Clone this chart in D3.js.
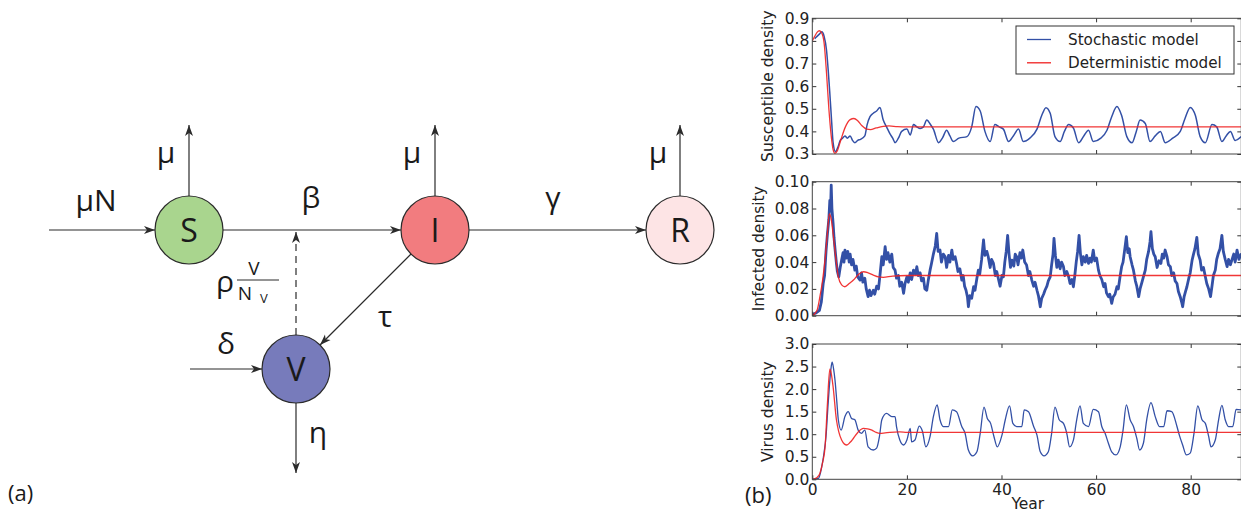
<!DOCTYPE html>
<html>
<head>
<meta charset="utf-8">
<script src="https://cdn.jsdelivr.net/npm/d3@7"></script>
<style>
body { margin: 0; background: #fff; }
svg { display: block; }
</style>
</head>
<body>
<svg id="fig" width="1241" height="514"></svg>
<script>
// x ticks (years) shared by the three panels
var yearTicks = [0, 20, 40, 60, 80];
var yearMax = 90.7;

// Susceptible density
var susTicks = [0.3, 0.4, 0.5, 0.6, 0.7, 0.8, 0.9];
var susStochastic = [[0.5,0.81],[1,0.82],[1.5,0.83],[2,0.84],[2.5,0.82],[3,0.76],[3.4,0.66],[3.7,0.57],[4.1,0.44],[4.4,0.35],[4.9,0.31],[5.4,0.33],[5.9,0.36],[6.4,0.37],[6.9,0.38],[7.4,0.37],[8,0.38],[8.5,0.36],[9,0.35],[9.6,0.36],[10.2,0.365],[11.1,0.38],[11.6,0.43],[12.2,0.465],[12.9,0.48],[13.6,0.49],[14.3,0.506],[15,0.45],[15.7,0.42],[16.4,0.39],[17,0.37],[17.5,0.35],[18.2,0.37],[18.9,0.40],[20,0.41],[20.7,0.384],[21.4,0.43],[22.1,0.42],[22.8,0.413],[23.5,0.42],[24.2,0.45],[25,0.43],[25.6,0.41],[26.7,0.35],[27.5,0.37],[28.4,0.405],[29.1,0.38],[29.8,0.355],[31,0.37],[32.7,0.377],[33.7,0.42],[34.6,0.51],[35.5,0.49],[36.5,0.40],[37.6,0.355],[38.6,0.43],[39.5,0.42],[40.4,0.41],[41.5,0.355],[42.5,0.38],[43.6,0.41],[44.6,0.355],[46,0.37],[47.5,0.41],[48.5,0.47],[49.4,0.505],[50.3,0.48],[51.3,0.377],[52.4,0.355],[53.3,0.40],[54.2,0.43],[55.2,0.415],[56.3,0.35],[57.4,0.38],[58.4,0.405],[59.4,0.355],[61,0.37],[62.3,0.405],[63.3,0.465],[64.4,0.51],[65.4,0.47],[66.5,0.377],[67.6,0.35],[68.5,0.40],[69.3,0.45],[70.4,0.435],[71.4,0.355],[72.5,0.38],[73.6,0.40],[74.6,0.35],[76.2,0.37],[77.8,0.40],[78.8,0.457],[79.9,0.506],[81,0.47],[82,0.377],[83.1,0.35],[84.5,0.43],[85.5,0.42],[86.6,0.355],[87.5,0.38],[88.4,0.40],[89.4,0.36],[90.7,0.377]];
var susDeterministic = [[0,0.80],[0.5,0.82],[1,0.838],[1.5,0.845],[2,0.835],[2.5,0.79],[3,0.66],[3.5,0.50],[4,0.38],[4.4,0.32],[4.8,0.303],[5.3,0.315],[6,0.36],[7,0.42],[8,0.452],[8.8,0.457],[9.6,0.447],[10.5,0.425],[11.5,0.41],[12.3,0.408],[13.5,0.415],[15,0.422],[16.2,0.424],[18,0.421],[20,0.42],[90.7,0.42]];

// Infected density
var infTicks = [0.00, 0.02, 0.04, 0.06, 0.08, 0.10];
var infStochastic = [[0,0.001],[0.8,0.002],[1.5,0.004],[1.9,0.010],[2.3,0.024],[2.6,0.030],[2.9,0.048],[3.2,0.061],[3.5,0.072],[3.7,0.086],[3.85,0.078],[4,0.0975],[4.15,0.080],[4.4,0.069],[4.6,0.058],[4.8,0.050],[5.1,0.039],[5.3,0.033],[5.6,0.029],[5.9,0.036],[6.2,0.0415],[6.5,0.047],[6.7,0.040],[6.9,0.049],[7.2,0.043],[7.5,0.048],[7.8,0.040],[8,0.046],[8.3,0.038],[8.6,0.042],[9,0.034],[9.3,0.037],[9.6,0.029],[10.1,0.0266],[10.4,0.032],[10.7,0.025],[11.1,0.028],[11.4,0.020],[11.8,0.0142],[12.1,0.019],[12.4,0.015],[12.9,0.019],[13.2,0.016],[13.6,0.022],[14,0.020],[14.3,0.030],[14.7,0.044],[15,0.038],[15.4,0.0515],[15.7,0.042],[16,0.047],[16.4,0.040],[16.8,0.046],[17.1,0.036],[17.5,0.034],[17.8,0.028],[18.2,0.030],[18.5,0.022],[18.9,0.025],[19.3,0.0167],[19.6,0.024],[20,0.029],[20.3,0.025],[20.7,0.032],[21,0.027],[21.4,0.034],[21.8,0.031],[22.1,0.0366],[22.4,0.030],[22.8,0.032],[23.1,0.026],[23.5,0.028],[23.8,0.020],[24.2,0.019],[24.5,0.026],[24.9,0.034],[25.2,0.039],[25.6,0.046],[26,0.052],[26.3,0.0614],[26.6,0.048],[27,0.049],[27.3,0.040],[27.7,0.046],[28.1,0.044],[28.4,0.036],[28.8,0.045],[29.1,0.040],[29.5,0.049],[29.8,0.042],[30.2,0.044],[30.5,0.039],[30.8,0.033],[31.2,0.035],[31.6,0.0266],[31.9,0.030],[32.2,0.022],[32.5,0.019],[32.8,0.014],[33,0.0067],[33.3,0.015],[33.7,0.013],[34.1,0.0216],[34.4,0.019],[34.8,0.028],[35.1,0.034],[35.4,0.031],[35.8,0.042],[36.2,0.0565],[36.5,0.045],[36.9,0.048],[37.2,0.044],[37.6,0.036],[37.9,0.042],[38.3,0.039],[38.7,0.030],[39,0.033],[39.4,0.0266],[39.7,0.022],[40.1,0.030],[40.4,0.029],[40.7,0.040],[41,0.048],[41.3,0.060],[41.6,0.046],[41.9,0.036],[42.2,0.0415],[42.6,0.037],[42.9,0.046],[43.2,0.044],[43.5,0.038],[43.9,0.047],[44.2,0.043],[44.5,0.049],[44.9,0.040],[45.3,0.0378],[45.7,0.030],[46,0.033],[46.4,0.0266],[46.8,0.022],[47.1,0.025],[47.5,0.019],[47.8,0.015],[48.2,0.0067],[48.5,0.013],[48.9,0.016],[49.2,0.019],[49.6,0.022],[49.9,0.026],[50.3,0.029],[50.6,0.038],[50.9,0.046],[51.1,0.0577],[51.4,0.045],[51.7,0.036],[52,0.0415],[52.4,0.035],[52.7,0.040],[53.1,0.0366],[53.4,0.030],[53.8,0.033],[54.2,0.029],[54.5,0.024],[54.9,0.027],[55.2,0.0216],[55.5,0.030],[55.8,0.040],[56.1,0.048],[56.4,0.060],[56.7,0.046],[57,0.038],[57.3,0.044],[57.7,0.040],[58,0.045],[58.4,0.039],[58.7,0.043],[59,0.040],[59.4,0.049],[59.7,0.041],[60.1,0.043],[60.5,0.034],[60.8,0.030],[61.2,0.027],[61.6,0.0216],[61.9,0.024],[62.2,0.017],[62.6,0.0142],[62.9,0.016],[63.3,0.0092],[63.6,0.014],[64,0.016],[64.4,0.0216],[64.7,0.020],[65.1,0.030],[65.4,0.0366],[65.7,0.040],[66,0.048],[66.4,0.059],[66.7,0.047],[67,0.050],[67.2,0.044],[67.6,0.038],[67.9,0.034],[68.3,0.026],[68.6,0.022],[69,0.0142],[69.3,0.020],[69.7,0.025],[70,0.029],[70.4,0.034],[70.7,0.042],[71.1,0.048],[71.4,0.055],[71.6,0.0627],[71.9,0.050],[72.2,0.046],[72.5,0.044],[72.9,0.036],[73.3,0.041],[73.7,0.039],[74,0.046],[74.3,0.043],[74.6,0.049],[75,0.044],[75.3,0.038],[75.7,0.0366],[76,0.030],[76.4,0.032],[76.7,0.026],[77.1,0.024],[77.4,0.018],[77.8,0.014],[78.1,0.010],[78.3,0.0067],[78.6,0.014],[78.9,0.018],[79.2,0.0216],[79.6,0.028],[79.9,0.032],[80.3,0.0415],[80.6,0.046],[80.9,0.050],[81.3,0.0585],[81.6,0.046],[82,0.0415],[82.3,0.034],[82.7,0.036],[83.1,0.029],[83.4,0.024],[83.8,0.020],[84.2,0.0142],[84.5,0.022],[84.8,0.030],[85.2,0.034],[85.5,0.042],[85.8,0.046],[86.2,0.050],[86.6,0.060],[86.9,0.048],[87.3,0.042],[87.7,0.0366],[88,0.042],[88.4,0.038],[88.7,0.0415],[89.1,0.046],[89.4,0.040],[89.8,0.049],[90.2,0.042],[90.7,0.0465]];
var infDeterministic = [[0,0],[1,0.004],[1.6,0.014],[2.2,0.027],[2.7,0.042],[3.2,0.062],[3.6,0.076],[4,0.072],[4.4,0.061],[5,0.042],[5.5,0.029],[6.2,0.023],[6.9,0.0216],[7.8,0.024],[8.7,0.0266],[9.8,0.031],[10.8,0.0328],[11.8,0.032],[12.9,0.0303],[14,0.0289],[15,0.0286],[17,0.0296],[20,0.030],[90.7,0.030]];

// Virus density
var virTicks = [0.0, 0.5, 1.0, 1.5, 2.0, 2.5, 3.0];
var virStochastic = [[0,0],[1.3,0.02],[2,0.28],[2.5,0.6],[2.9,0.95],[3.3,1.6],[3.6,2.05],[4,2.5],[4.2,2.6],[4.5,2.45],[4.8,2.2],[5.2,1.7],[5.5,1.32],[6.1,1.09],[6.9,1.39],[7.6,1.5],[8.3,1.35],[9,1.32],[9.7,1.09],[10.4,1.02],[11.1,1.09],[11.8,0.72],[12.9,0.65],[13.6,0.69],[14.2,0.95],[14.7,1.32],[15.7,1.46],[16.8,1.39],[17.5,1.39],[17.8,1.17],[18.5,0.87],[19.3,0.76],[20,0.87],[20.7,1.13],[21,0.83],[21.7,0.87],[22.6,1.18],[23.3,1.06],[24,0.72],[24.9,0.95],[25.6,1.39],[26.4,1.65],[27,1.32],[27.7,1.17],[28.8,1.17],[29.6,1.54],[30.5,1.5],[31.6,1.17],[32.3,1.02],[33,0.65],[33.9,0.52],[34.8,0.61],[35.5,1.02],[36.3,1.6],[37,1.35],[37.7,1.24],[38.4,0.95],[39.1,0.72],[40.1,0.98],[40.8,1.32],[41.7,1.63],[42.4,1.24],[43.2,1.17],[44.3,1.17],[44.8,1.54],[45.7,1.5],[46.8,1.17],[47.5,0.98],[48.2,0.61],[49,0.52],[49.9,0.61],[50.6,1.02],[51.3,1.6],[52.2,1.32],[53.1,1.24],[53.8,1.02],[54.4,0.72],[55.2,0.87],[55.9,1.32],[56.6,1.63],[57.3,1.24],[58.4,1.17],[59.4,1.55],[60.5,1.5],[61.2,1.17],[61.9,1.02],[62.6,0.8],[63.3,0.61],[64.2,0.54],[65.1,0.72],[65.7,1.09],[66.4,1.65],[67.2,1.32],[67.9,1.17],[68.6,0.91],[69.2,0.65],[70,0.8],[70.7,1.32],[71.6,1.7],[72.5,1.39],[73.4,1.17],[74.3,1.17],[75,1.52],[76,1.5],[77.1,1.17],[77.6,0.98],[78.3,0.76],[79.1,0.54],[79.9,0.58],[80.7,1.02],[81.5,1.63],[82.4,1.32],[83.1,1.24],[83.8,0.95],[84.3,0.72],[85.2,0.87],[85.9,1.32],[86.6,1.64],[87.3,1.32],[88,1.17],[88.9,1.17],[89.6,1.55],[90.7,1.54]];
var virDeterministic = [[0,0],[1,0.04],[1.6,0.13],[2.2,0.38],[2.7,0.72],[3.2,1.68],[3.7,2.44],[4,2.35],[4.4,2.05],[5.1,1.32],[5.6,1.05],[6.2,0.87],[6.8,0.78],[7.3,0.76],[8,0.82],[8.7,0.91],[9.7,1.05],[10.8,1.13],[11.7,1.12],[12.6,1.09],[13.5,1.04],[14.3,1.02],[15.4,1.03],[16.4,1.04],[18.5,1.05],[20,1.04],[90.7,1.04]];

var legendLabels = ["Stochastic model", "Deterministic model"];
var blue = "#3350a6", red = "#f02020";
var chartFont = "'DejaVu Sans', sans-serif";

var svg = d3.select("#fig");

// ---------- (a) compartment diagram ----------
var nodes = [
    {id: "S", x: 189, y: 230, fill: "#a9d58e"},
    {id: "I", x: 435, y: 230, fill: "#f27c7f"},
    {id: "R", x: 680, y: 230, fill: "#fde4e5"},
    {id: "V", x: 296, y: 369, fill: "#777bbb"}
];
var rad = 34;

svg.append("defs").append("marker")
    .attr("id", "head")
    .attr("viewBox", "0 -5 12 10")
    .attr("refX", 11).attr("refY", 0)
    .attr("markerUnits", "userSpaceOnUse")
    .attr("markerWidth", 12).attr("markerHeight", 10)
    .attr("orient", "auto")
    .append("path")
    .attr("d", "M0,-4L11,0L0,4L3,0Z")
    .attr("fill", "#2b2b2b");

var arrows = [
    [49, 230, 155, 230, false],
    [223, 230, 401, 230, false],
    [469, 230, 646, 230, false],
    [189, 196, 189, 125, false],
    [435, 196, 435, 125, false],
    [680, 196, 680, 125, false],
    [190, 369, 262, 369, false],
    [296, 403, 296, 473, false],
    [411, 254, 320, 345, false],
    [296, 335, 296, 232, true]
];

var diag = svg.append("g").style("font-family", "'Open Sans', sans-serif").attr("fill", "#1a1a1a");

diag.selectAll("line.arrow")
    .data(arrows)
    .enter()
    .append("line")
    .attr("class", "arrow")
    .attr("x1", function(d) { return d[0]; })
    .attr("y1", function(d) { return d[1]; })
    .attr("x2", function(d) { return d[2]; })
    .attr("y2", function(d) { return d[3]; })
    .attr("stroke", "#2b2b2b")
    .attr("stroke-width", 1.2)
    .attr("stroke-dasharray", function(d) { return d[4] ? "7,5" : null; })
    .attr("marker-end", "url(#head)");

diag.selectAll("circle")
    .data(nodes)
    .enter()
    .append("circle")
    .attr("cx", function(d) { return d.x; })
    .attr("cy", function(d) { return d.y; })
    .attr("r", rad)
    .attr("fill", function(d) { return d.fill; })
    .attr("stroke", "#2b2b2b")
    .attr("stroke-width", 1.2);

diag.selectAll("text.node")
    .data(nodes)
    .enter()
    .append("text")
    .attr("class", "node")
    .attr("x", function(d) { return d.x; })
    .attr("y", function(d) { return d.y + 11.5; })
    .attr("text-anchor", "middle")
    .style("font-size", "32px")
    .text(function(d) { return d.id; });

var rates = [
    {t: "μN", x: 96, y: 211},
    {t: "μ", x: 166, y: 163},
    {t: "μ", x: 412, y: 163},
    {t: "μ", x: 658, y: 163},
    {t: "β", x: 311, y: 208},
    {t: "γ", x: 553, y: 208},
    {t: "τ", x: 385, y: 327},
    {t: "δ", x: 226, y: 354},
    {t: "η", x: 318, y: 443},
    {t: "ρ", x: 225, y: 292}
];
diag.selectAll("text.rate")
    .data(rates)
    .enter()
    .append("text")
    .attr("class", "rate")
    .attr("x", function(d) { return d.x; })
    .attr("y", function(d) { return d.y; })
    .attr("text-anchor", "middle")
    .style("font-size", "30px")
    .text(function(d) { return d.t; });

// V / N_V fraction
diag.append("text").attr("x", 254).attr("y", 275).attr("text-anchor", "middle").style("font-size", "19px").text("V");
diag.append("line").attr("x1", 237).attr("x2", 279).attr("y1", 280).attr("y2", 280).attr("stroke", "#2b2b2b").attr("stroke-width", 1);
diag.append("text").attr("x", 245).attr("y", 300).attr("text-anchor", "middle").style("font-size", "19px").text("N");
diag.append("text").attr("x", 264).attr("y", 303).attr("text-anchor", "middle").style("font-size", "13px").text("V");

svg.append("text").attr("x", 8).attr("y", 501).style("font-family", "'Open Sans', sans-serif").style("font-size", "22px").attr("fill", "#1a1a1a").text("(a)");
svg.append("text").attr("x", 745).attr("y", 503).style("font-family", "'Open Sans', sans-serif").style("font-size", "22px").attr("fill", "#1a1a1a").text("(b)");

// ---------- (b) time series panels ----------
var plotLeft = 812.3, plotRight = 1241.3;
var x = d3.scaleLinear().domain([0, yearMax]).range([plotLeft, plotRight]);

var panels = [
    {top: 18.3, bottom: 154, ticks: susTicks, fmt: ".1f", label: "Susceptible density", labelX: 773, stoch: susStochastic, det: susDeterministic, sw: 1.5, curve: d3.curveMonotoneX, xLabels: false},
    {top: 181.7, bottom: 315.7, ticks: infTicks, fmt: ".2f", label: "Infected density", labelX: 764, stoch: infStochastic, det: infDeterministic, sw: 2.8, curve: d3.curveLinear, xLabels: false},
    {top: 344, bottom: 479.3, ticks: virTicks, fmt: ".1f", label: "Virus density", labelX: 773, stoch: virStochastic, det: virDeterministic, sw: 1.3, curve: d3.curveMonotoneX, xLabels: true}
];

panels.forEach(function(p, i) {
    var y = d3.scaleLinear()
        .domain([p.ticks[0], p.ticks[p.ticks.length - 1]])
        .range([p.bottom, p.top]);

    var g = svg.append("g");

    g.append("clipPath").attr("id", "clip" + i)
        .append("rect")
        .attr("x", plotLeft).attr("y", p.top)
        .attr("width", plotRight - plotLeft).attr("height", p.bottom - p.top);

    var line = d3.line()
        .x(function(d) { return x(d[0]); })
        .y(function(d) { return y(d[1]); });

    g.append("path")
        .datum(p.stoch)
        .attr("clip-path", "url(#clip" + i + ")")
        .attr("d", line.curve(p.curve))
        .attr("fill", "none")
        .attr("stroke", blue)
        .attr("stroke-width", p.sw)
        .attr("stroke-linejoin", "round");

    g.append("path")
        .datum(p.det)
        .attr("clip-path", "url(#clip" + i + ")")
        .attr("d", line.curve(d3.curveMonotoneX))
        .attr("fill", "none")
        .attr("stroke", red)
        .attr("stroke-width", 1.3)
        .attr("opacity", 0.9);

    var left = g.append("g")
        .attr("transform", "translate(" + plotLeft + ",0)")
        .call(d3.axisLeft(y).tickValues(p.ticks).tickSize(-4).tickPadding(3).tickFormat(d3.format(p.fmt)));
    var right = g.append("g")
        .attr("transform", "translate(" + plotRight + ",0)")
        .call(d3.axisRight(y).tickValues(p.ticks).tickSize(-4).tickFormat(""));
    var topAx = g.append("g")
        .attr("transform", "translate(0," + p.top + ")")
        .call(d3.axisTop(x).tickValues(yearTicks).tickSize(-4).tickFormat(""));
    var bottomAx = g.append("g")
        .attr("transform", "translate(0," + p.bottom + ")")
        .call(d3.axisBottom(x).tickValues(yearTicks).tickSize(-4).tickPadding(5)
              .tickFormat(p.xLabels ? d3.format("d") : ""));

    [left, right, topAx, bottomAx].forEach(function(a) {
        a.select(".domain").remove();
        a.selectAll(".tick line").attr("stroke", "#333");
        a.selectAll("text").attr("fill", "#222")
            .style("font-family", chartFont)
            .style("font-size", "15.5px");
    });

    g.append("rect")
        .attr("x", plotLeft).attr("y", p.top)
        .attr("width", plotRight - plotLeft).attr("height", p.bottom - p.top)
        .attr("fill", "none")
        .attr("stroke", "#444")
        .attr("stroke-width", 1);

    g.append("text")
        .attr("transform", "translate(" + p.labelX + "," + ((p.top + p.bottom) / 2) + ") rotate(-90)")
        .attr("text-anchor", "middle")
        .attr("fill", "#222")
        .style("font-family", chartFont)
        .style("font-size", "15.5px")
        .text(p.label);
});

svg.append("text")
    .attr("x", (x(0) + x(yearMax)) / 2 + 1)
    .attr("y", 509)
    .attr("text-anchor", "middle")
    .style("font-family", chartFont)
    .style("font-size", "15.5px")
    .attr("fill", "#222")
    .text("Year");

// legend
var leg = svg.append("g");
leg.append("rect")
    .attr("x", 1016).attr("y", 26).attr("width", 218).attr("height", 48)
    .attr("fill", "#fff").attr("stroke", "#333").attr("stroke-width", 1);
legendLabels.forEach(function(lab, i) {
    var ly = 39.5 + i * 23.3;
    leg.append("line")
        .attr("x1", 1027).attr("x2", 1051).attr("y1", ly).attr("y2", ly)
        .attr("stroke", i == 0 ? blue : red).attr("stroke-width", 1.3);
    leg.append("text")
        .attr("x", 1068).attr("y", ly + 5.5)
        .attr("fill", "#222")
        .style("font-family", chartFont)
        .style("font-size", "15.2px")
        .text(lab);
});
</script>
</body>
</html>
